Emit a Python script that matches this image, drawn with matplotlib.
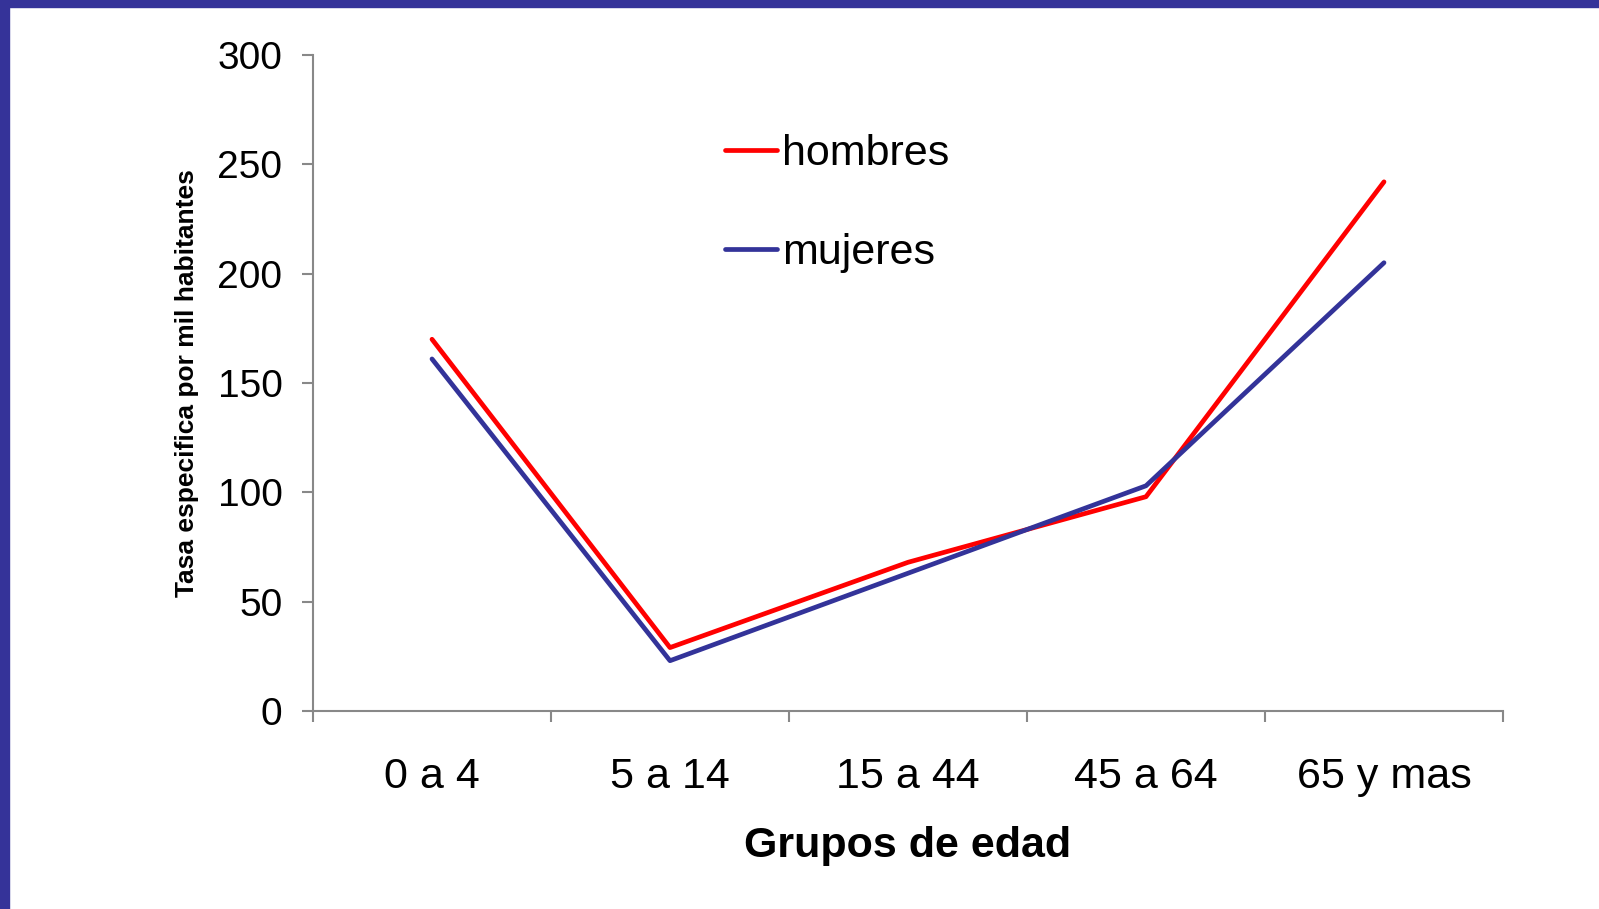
import matplotlib
matplotlib.use("Agg")
import matplotlib.pyplot as plt
from matplotlib.patches import Rectangle

grupos = ["0 a 4", "5 a 14", "15 a 44", "45 a 64", "65 y mas"]
hombres = [170, 29, 68, 98, 242]
mujeres = [161, 23, 63, 103, 205]
yticks = [0, 50, 100, 150, 200, 250, 300]

plt.rcParams['font.family'] = ['Liberation Sans', 'DejaVu Sans']

fig = plt.figure(figsize=(15.99, 9.09), dpi=100)
fig.patch.set_facecolor('white')
border = '#353399'
fig.patches.append(Rectangle((0, 1 - 7/909), 1, 7/909, transform=fig.transFigure,
                             color=border, zorder=10))
fig.patches.append(Rectangle((0, 0), 9/1599, 1, transform=fig.transFigure,
                             color=border, zorder=10))

ax = fig.add_axes([313/1599, 1 - 711/909, 1190/1599, 656/909])
x = list(range(len(grupos)))
ax.plot(x, hombres, color='#ff0000', lw=3.4, solid_capstyle='round', label='hombres')
ax.plot(x, mujeres, color='#333399', lw=3.4, solid_capstyle='round', label='mujeres')

ax.set_xlim(-0.5, len(grupos) - 0.5)
ax.set_ylim(0, 300)
ax.set_yticks(yticks)
ax.set_xticks(x)
ax.set_xticklabels(grupos)
ax.set_xticks([i - 0.5 for i in range(len(grupos) + 1)], minor=True)

for s in ['top', 'right']:
    ax.spines[s].set_visible(False)
for s in ['left', 'bottom']:
    ax.spines[s].set_color('#888888')
    ax.spines[s].set_linewidth(1.5)

ax.tick_params(axis='y', length=8, width=1.5, color='#888888', pad=14, labelsize=28)
ax.tick_params(axis='x', which='major', length=0, pad=33, labelsize=31)
ax.tick_params(axis='x', which='minor', length=8, width=1.5, color='#888888')

ax.set_xlabel('Grupos de edad', fontsize=31, fontweight='bold', labelpad=21)
ax.set_ylabel('Tasa especifica por mil habitantes', fontsize=19, fontweight='bold', labelpad=13)

ax.legend(loc='upper left', bbox_to_anchor=(0.328, 0.912), frameon=False, fontsize=31,
          handlelength=1.2, handletextpad=0.12, labelspacing=1.36, borderpad=0)

fig.savefig('out.png', dpi=100)
